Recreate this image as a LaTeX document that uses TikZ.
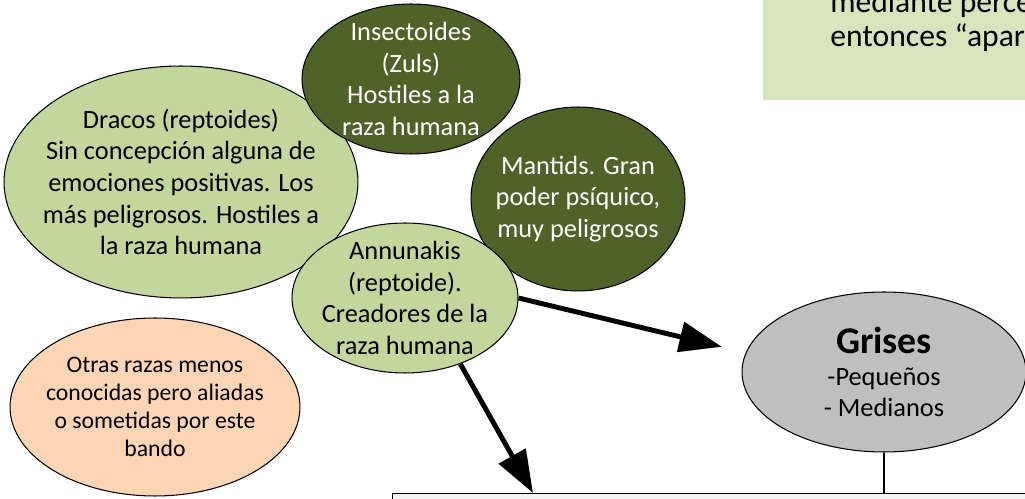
\documentclass[tikz,border=0pt]{standalone}
\usepackage{fontspec}
\setmainfont{Carlito}
\usepackage{tikz}
\usetikzlibrary{arrows.meta,shapes.geometric,calc}

\definecolor{verdeosc}{HTML}{4F6228}
\definecolor{verdecla}{HTML}{C3D69B}
\definecolor{melocoton}{HTML}{FCD5B5}
\definecolor{gris}{HTML}{BFBFBF}
\definecolor{verdenota}{HTML}{D8E4BC}
\definecolor{grisclaro}{HTML}{F2F2F2}

\tikzset{
	raza/.style={ellipse, draw, line width=0.6pt, inner sep=0pt},
	texto/.style={align=center, font=\fontsize{15}{18}\selectfont},
	flecha/.style={line width=2.8pt, -{Triangle[length=0.85cm,width=0.6cm]}},
}

\begin{document}
\begin{tikzpicture}[x=0.02cm,y=-0.02cm]
	\useasboundingbox (0,0) rectangle (1025,499);
	\clip (0,0) rectangle (1025,499);
	
	% nota arriba a la derecha
	\fill[verdenota] (763,-10) rectangle (1030,100);
	\node[anchor=base west, inner sep=0pt, font=\fontsize{18}{20}\selectfont] (nota1) at (830,13) {mediante perce};
	\node[anchor=base west, inner sep=0pt, font=\fontsize{18}{20}\selectfont] (nota2) at (830,47) {entonces “apar};
	
	% cuadro de abajo
	\node[draw, line width=0.6pt, fill=grisclaro, anchor=north west, minimum width=13cm, minimum height=1cm] (cuadro) at (392,493) {};
	
	% razas
	\node[raza, fill=verdecla, minimum width=7.08cm, minimum height=4.64cm] (dracos) at (181,182) {};
		\node[texto] at (dracos) {Dracos (reptoides)\\Sin concepción alguna de\\emociones positivas. Los\\más peligrosos. Hostiles a\\la raza humana};
	\node[raza, fill=verdeosc, minimum width=4.36cm, minimum height=3cm] (insect) at (411,79) {};
		\node[texto, text=white] at (insect) {Insectoides\\(Zuls)\\Hostiles a la\\raza humana};
	\node[raza, fill=verdeosc, minimum width=4.28cm, minimum height=3.68cm] (mantids) at (578,199) {};
		\node[texto, text=white] at (mantids) {Mantids. Gran\\poder psíquico,\\muy peligrosos};
	\node[raza, fill=verdecla, minimum width=4.52cm, minimum height=3cm] (annun) at (405,298) {};
		\node[texto] at (annun) {Annunakis\\(reptoide).\\Creadores de la\\raza humana};
	\node[raza, fill=melocoton, minimum width=5.8cm, minimum height=3.56cm] (otras) at (155,407) {};
		\node[texto, font=\fontsize{13.5}{16}\selectfont] at (otras) {Otras razas menos\\conocidas pero aliadas\\o sometidas por este\\bando};
	\node[raza, fill=gris, minimum width=5.68cm, minimum height=3.2cm] (grises) at (884,372) {};
		\node[texto] at (grises) {{\fontsize{21.5}{22}\selectfont\bfseries Grises}\\-Pequeños\\- Medianos};
	
	% conexiones
	\draw[flecha, shorten >=14pt] (annun.east) -- (grises.172);
	\draw[flecha] (annun.-50) -- ($(cuadro.north west)+(141,0)$);
	\draw[line width=0.6pt] (grises.south) -- (grises.south |- cuadro.north);
	
\end{tikzpicture}
\end{document}
